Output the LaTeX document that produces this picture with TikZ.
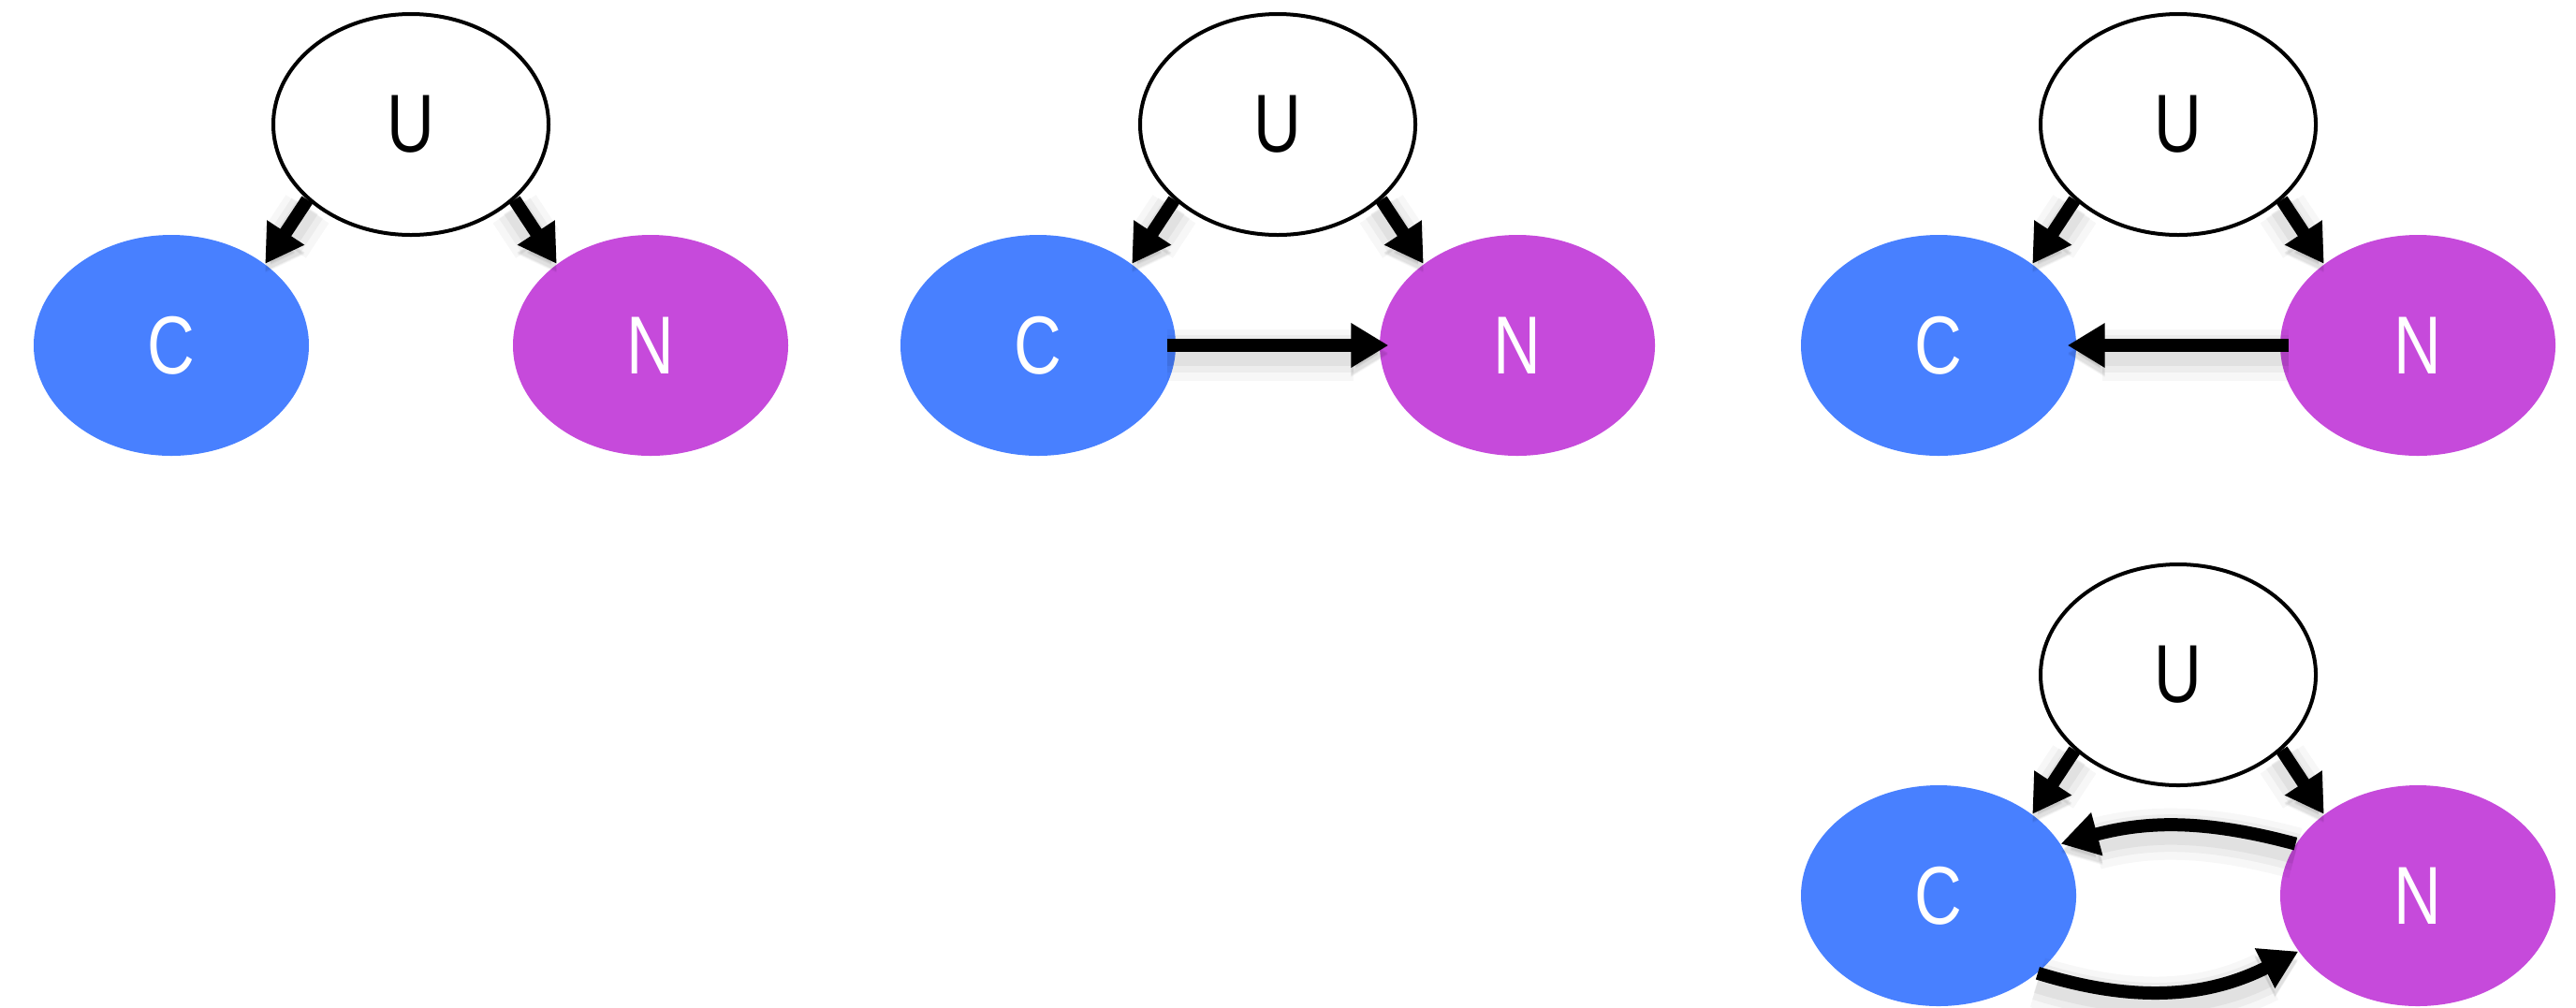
\documentclass[tikz,border=0pt]{standalone}
\usepackage{fontspec}
\setmainfont{Liberation Sans}
\usetikzlibrary{shapes.geometric}
\usetikzlibrary{arrows.meta}

\definecolor{causeBlue}{RGB}{72,128,255}
\definecolor{effectPurple}{RGB}{198,74,219}
\newcommand{\varlabel}[1]{\scalebox{0.8}[1]{\fontsize{25}{30}\selectfont #1}}

\begin{document}
\begin{tikzpicture}
[-,%
  varNode/.style={shape=ellipse,minimum width=2.94cm,minimum height=2.36cm,inner sep=0pt},%
  hiddenDecorate/.style={varNode,draw,line width=0.04cm,fill=white},%
  causeDecorate/.style={varNode,fill=causeBlue,text=white},%
  effectDecorate/.style={varNode,fill=effectPurple,text=white},%
  lineDecorate/.style={line width=0.14cm,-{Triangle[length=0.4cm,width=0.45cm]},%
    preaction={draw=black,opacity=0.03,line width=0.55cm,transform canvas={yshift=-0.1cm}},%
    preaction={draw=black,opacity=0.04,line width=0.4cm,transform canvas={yshift=-0.09cm}},%
    preaction={draw=black,opacity=0.05,line width=0.27cm,transform canvas={yshift=-0.08cm}}},%
  overlap/.style={shorten <=-0.1cm,shorten >=-0.1cm}]
\useasboundingbox (0,0) rectangle (27.52,-10.76);
%% the three variables of each graph, with U pointing at C and N
\foreach \p/\x/\y in {1/4.39/-1.33, 2/13.65/-1.33, 3/23.27/-1.33, 4/23.27/-7.21}
{
  \node[hiddenDecorate] (u\p) at (\x,\y) {\varlabel{U}};
  \node[causeDecorate] (c\p) at (\x-2.56,\y-2.36) {\varlabel{C}};
  \node[effectDecorate] (n\p) at (\x+2.56,\y-2.36) {\varlabel{N}};
  \draw[lineDecorate] (u\p.216) -- (c\p.41);
  \draw[lineDecorate] (u\p.-36) -- (n\p.139);
}
%% direct links between C and N
\draw[lineDecorate,overlap] (c2.east) -- (n2.west);
\draw[lineDecorate,overlap] (n3.west) -- (c3.east);
\draw[lineDecorate] (n4.157) to[bend right=15] (c4.23);
\draw[lineDecorate] (c4.-38) to[bend right=22] (n4.205);
\end{tikzpicture}
\end{document}
